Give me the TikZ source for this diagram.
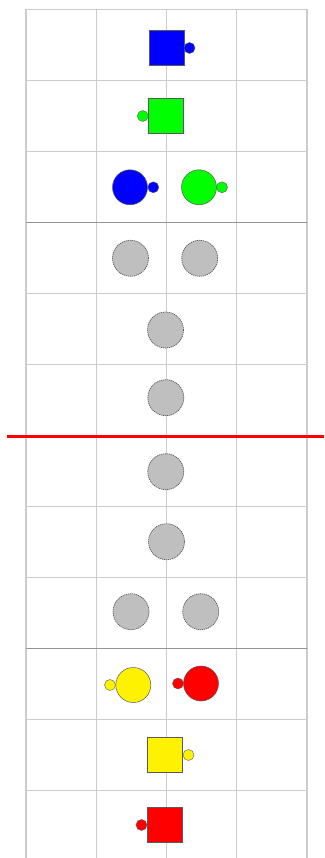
\documentclass[tikz,border=0pt]{standalone}
\begin{document}
\begin{tikzpicture}[x=1pt,y=-1pt,
  gridline/.style={draw=black!20,line width=1.1pt},
  darkline/.style={draw=black!42,line width=1.1pt},
  sq/.style={rectangle,draw=black!65,line width=0.5pt,minimum size=35pt,inner sep=0pt},
  big/.style={circle,draw=black!65,line width=0.5pt,minimum size=35pt,inner sep=0pt},
  knob/.style={circle,draw=black!65,line width=0.4pt,minimum size=11pt,inner sep=0pt},
  ghost/.style={circle,fill=black!25,draw=black!65,line width=0.7pt,dash pattern=on 1.2pt off 0.8pt,minimum size=36pt,inner sep=0pt}]
\useasboundingbox (0,0) rectangle (324,858);
% grid
\foreach \x in {26,96.25,166.5,236.75,307} \draw[gridline] (\x,9.5) -- (\x,862);
\foreach \k in {0,1,2,4,5,6,7,8,10,11} \draw[gridline] (26,9.5+71*\k) -- (307,9.5+71*\k);
\draw[darkline] (26,222.5) -- (307,222.5);
\draw[darkline] (26,648.5) -- (307,648.5);
% row 1
\node[sq,fill=blue] (bsq) at (166.5,47.5) {};
\node[knob,fill=blue] (bsqk) at (189.5,48) {};
% row 2
\node[sq,fill=green] (gsq) at (166,116) {};
\node[knob,fill=green] (gsqk) at (142.8,116) {};
% row 3
\node[big,fill=blue] (bc) at (130,187.3) {};
\node[knob,fill=blue] (bck) at (153.3,187.3) {};
\node[big,fill=green] (gc) at (199,187.3) {};
\node[knob,fill=green] (gck) at (222,187.3) {};
% gray circles
\node[ghost] (g1) at (130.5,258.3) {};
\node[ghost] (g2) at (199.7,258.3) {};
\node[ghost] (g3) at (165.5,330) {};
\node[ghost] (g4) at (165.8,397.7) {};
\node[ghost] (g5) at (165.8,471.7) {};
\node[ghost] (g6) at (166.5,541.7) {};
\node[ghost] (g7) at (131,611.7) {};
\node[ghost] (g8) at (200.7,611.7) {};
% red line
\coordinate (rl) at (7,436);
\coordinate (rr) at (324,436);
\draw[red,line width=3pt] (rl) -- (rr);
% yellow / red circles
\node[big,fill=yellow] (yc) at (133.3,685) {};
\node[knob,fill=yellow] (yck) at (110,685) {};
\node[big,fill=red] (rc) at (201,683.5) {};
\node[knob,fill=red] (rck) at (178,683.5) {};
% yellow square
\node[sq,fill=yellow] (ysq) at (165,754.5) {};
\node[knob,fill=yellow] (ysqk) at (188.5,755) {};
% red square
\node[sq,fill=red] (rsq) at (164.5,825) {};
\node[knob,fill=red] (rsqk) at (141.5,825) {};
\end{tikzpicture}
\end{document}
